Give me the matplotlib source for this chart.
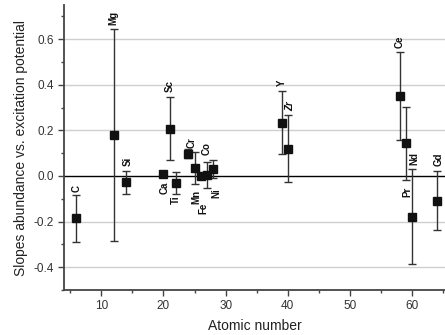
import matplotlib
matplotlib.use("Agg")
import matplotlib.pyplot as plt
from matplotlib.ticker import MultipleLocator

plt.rcParams['font.family'] = ['Liberation Sans', 'DejaVu Sans']

elements = ['C', 'Mg', 'Si', 'Ca', 'Sc', 'Ti', 'Cr', 'Mn', 'Fe', 'Co', 'Ni',
            'Y', 'Zr', 'Ce', 'Pr', 'Nd', 'Gd']
atomic_number = [6, 12, 14, 20, 21, 22, 24, 25, 26, 27, 28, 39, 40, 58, 59, 60, 64]
slope = [-0.185, 0.180, -0.028, 0.008, 0.208, -0.031, 0.097, 0.035, 0.002, 0.005, 0.030,
         0.233, 0.120, 0.350, 0.143, -0.178, -0.108]
slope_err = [0.103, 0.465, 0.050, 0.008, 0.138, 0.049, 0.020, 0.070, 0.008, 0.058, 0.040,
             0.138, 0.146, 0.193, 0.161, 0.209, 0.128]

# label placement: side of the error bar and pixel offsets (dx, dy)
label_side = ['above', 'above', 'above', 'below', 'above', 'below', 'above', 'below',
              'below', 'above', 'below', 'above', 'above', 'above', 'below', 'above', 'above']
label_dx = [0, 0, 2, 1.5, 0, 0, 3, 2, 2.5, 0, 3.5, 0, 2, 0, 2, 2.5, 2]
label_dy = [3, 4, 4.5, 6, 5, 1, 1, 6, 25, 6.5, 10, 5, 4, 4, 6.5, 4, 5]

fig = plt.figure(figsize=(4.45, 3.35), dpi=100)
ax = fig.add_axes([64 / 445, 45 / 335, 381 / 445, 285 / 335])

ax.set_xlim(4, 65.3)
ax.set_ylim(-0.5, 0.75)

for yv in [-0.4, -0.2, 0.2, 0.4, 0.6]:
    ax.axhline(yv, color='#cfcfcf', lw=1.0, zorder=0)
ax.axhline(0.0, color='black', lw=1.0, zorder=1)

ax.errorbar(atomic_number, slope, yerr=slope_err, fmt='s', color='#111111',
            ecolor='#333333', elinewidth=1.0, capsize=3, capthick=1.0,
            markersize=6, zorder=3)

for el, x, y, e, side, dx, dy in zip(elements, atomic_number, slope, slope_err,
                                     label_side, label_dx, label_dy):
    style = 'italic' if el == 'Zr' else 'normal'
    if side == 'above':
        ax.annotate(el, (x, y + e), xytext=(dx, dy), textcoords='offset pixels',
                    rotation=90, ha='center', va='bottom', fontsize=7,
                    fontweight='bold', style=style, color='#111111')
    else:
        ax.annotate(el, (x, y - e), xytext=(dx, -dy), textcoords='offset pixels',
                    rotation=90, ha='center', va='top', fontsize=7,
                    fontweight='bold', style=style, color='#111111')

ax.xaxis.set_major_locator(MultipleLocator(10))
ax.xaxis.set_minor_locator(MultipleLocator(5))
ax.yaxis.set_major_locator(MultipleLocator(0.2))
ax.yaxis.set_minor_locator(MultipleLocator(0.1))
ax.set_yticks([-0.4, -0.2, 0.0, 0.2, 0.4, 0.6])
ax.set_yticklabels(['-0.4', '-0.2', '0.0', '0.2', '0.4', '0.6'])

for s in ['top', 'right']:
    ax.spines[s].set_visible(False)
for s in ['left', 'bottom']:
    ax.spines[s].set_color('#444444')
    ax.spines[s].set_linewidth(1.3)

ax.tick_params(which='major', direction='out', length=4, width=1, color='#444444',
               labelsize=8.5, labelcolor='#333333')
ax.tick_params(which='minor', direction='out', length=2.5, width=1, color='#444444')

ax.set_xlabel('Atomic number', fontsize=10, color='#222222', labelpad=5)
ax.set_ylabel('Slopes abundance vs. excitation potential', fontsize=10,
              color='#222222', labelpad=4)

fig.savefig('out.png', dpi=100)
